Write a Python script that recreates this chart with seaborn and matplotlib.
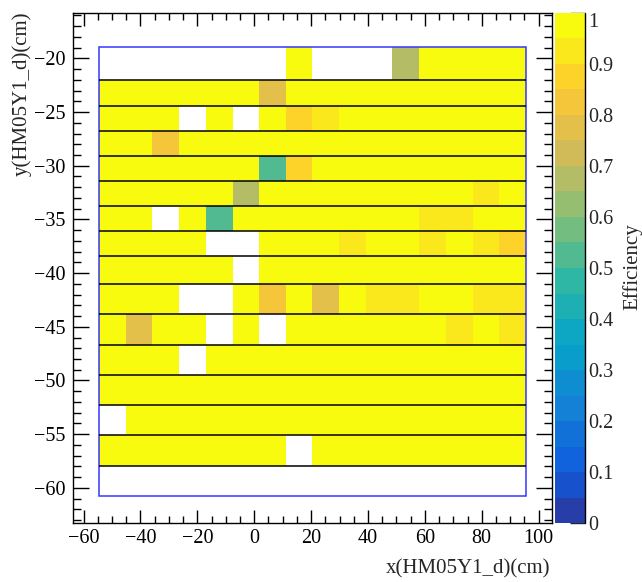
import numpy as np
import pandas as pd
import matplotlib
matplotlib.use("Agg")
import matplotlib.pyplot as plt
from matplotlib.colors import LinearSegmentedColormap, ListedColormap
from matplotlib.patches import Rectangle
from matplotlib.ticker import MultipleLocator
import seaborn as sns

# bin edges of the efficiency map (cm)
x_edges = [-54.5, -45.1, -35.8, -26.4, -17.0, -7.6, 1.7, 11.1, 20.5,
           29.9, 39.3, 48.6, 58.0, 67.4, 76.8, 86.1, 95.5]
# y edges, top -> bottom
y_edges = [-18.9, -22.05, -24.45, -26.75, -29.05, -31.45, -33.75, -36.1,
           -38.45, -41.0, -43.85, -46.65, -49.45, -52.3, -55.1, -57.95, -60.75]

# efficiency per cell, rows top -> bottom, 0 = no entries
eff = [
    [0, 0, 0, 0, 0, 0, 0, .98, 0, 0, 0, .67, .98, .98, .98, .98],
    [.98, .98, .98, .98, .98, .98, .77, .98, .98, .98, .98, .98, .98, .98, .98, .98],
    [.98, .98, .98, 0, .98, 0, .98, .87, .93, .98, .98, .98, .98, .98, .98, .98],
    [.98, .98, .82, .98, .98, .98, .98, .98, .98, .98, .98, .98, .98, .98, .98, .98],
    [.98, .98, .98, .98, .98, .98, .52, .87, .98, .98, .98, .98, .98, .98, .98, .98],
    [.98, .98, .98, .98, .98, .67, .98, .98, .98, .98, .98, .98, .98, .98, .93, .98],
    [.98, .98, 0, .98, .52, .98, .98, .98, .98, .98, .98, .98, .93, .93, .98, .98],
    [.98, .98, .98, .98, 0, 0, .98, .98, .98, .93, .98, .98, .93, .98, .93, .87],
    [.98, .98, .98, .98, .98, 0, .98, .98, .98, .98, .98, .98, .98, .98, .98, .98],
    [.98, .98, .98, 0, 0, .98, .82, .98, .77, .98, .93, .93, .98, .98, .93, .93],
    [.98, .77, .98, .98, 0, .98, 0, .98, .98, .98, .98, .98, .98, .93, .98, .93],
    [.98, .98, .98, 0, .98, .98, .98, .98, .98, .98, .98, .98, .98, .98, .98, .98],
    [.98, .98, .98, .98, .98, .98, .98, .98, .98, .98, .98, .98, .98, .98, .98, .98],
    [0, .98, .98, .98, .98, .98, .98, .98, .98, .98, .98, .98, .98, .98, .98, .98],
    [.98, .98, .98, .98, .98, .98, .98, 0, .98, .98, .98, .98, .98, .98, .98, .98],
    [0, 0, 0, 0, 0, 0, 0, 0, 0, 0, 0, 0, 0, 0, 0, 0],
]

cbar_ticks = [0, 0.1, 0.2, 0.3, 0.4, 0.5, 0.6, 0.7, 0.8, 0.9, 1]
cbar_labels = ["0", "0.1", "0.2", "0.3", "0.4", "0.5", "0.6", "0.7", "0.8", "0.9", "1"]

# long table: one weighted entry per filled cell
xc = [(a + b) / 2 for a, b in zip(x_edges[:-1], x_edges[1:])]
yc = [(a + b) / 2 for a, b in zip(y_edges[:-1], y_edges[1:])]
recs = []
for i, row in enumerate(eff):
    for j, v in enumerate(row):
        if v > 0:
            recs.append({"x": xc[j], "y": yc[i], "eff": v})
df = pd.DataFrame(recs)

# ROOT kBird palette, 20 contour levels
stops = [0.0, 0.125, 0.25, 0.375, 0.5, 0.625, 0.75, 0.875, 1.0]
red = [0.2082, 0.0592, 0.0780, 0.0232, 0.1802, 0.5301, 0.8186, 0.9956, 0.9764]
green = [0.1664, 0.3599, 0.5041, 0.6419, 0.7178, 0.7492, 0.7328, 0.7862, 0.9832]
blue = [0.5293, 0.8684, 0.8385, 0.7914, 0.6425, 0.4662, 0.3499, 0.1968, 0.0539]
bird = LinearSegmentedColormap.from_list(
    "bird", list(zip(stops, zip(red, green, blue))), N=255)
levels = ListedColormap([bird((i + 0.99) / 20) for i in range(20)])

sns.set_style("ticks")
plt.rcParams["font.family"] = ["Liberation Serif", "DejaVu Serif"]

W, H = 642, 582
fig = plt.figure(figsize=(W / 100, H / 100), dpi=100)
ax = fig.add_axes([72.7 / W, 1 - 523.3 / H, (552 - 72.7) / W, (523.3 - 12.7) / H])
cax = fig.add_axes([555 / W, 1 - 523.3 / H, 30 / W, (523.3 - 12.7) / H])

sns.histplot(data=df, x="x", y="y", weights="eff",
             bins=[x_edges, y_edges[::-1]],
             cmap=levels, vmin=0, vmax=1,
             cbar=True, cbar_ax=cax, ax=ax)

# detector outline and slab boundaries
ax.hlines(y_edges[1:-1], x_edges[0], x_edges[-1], color="black", lw=1.1)
ax.add_patch(Rectangle((x_edges[0], y_edges[-1]), x_edges[-1] - x_edges[0],
                       y_edges[0] - y_edges[-1], fill=False, ec="#3535ff", lw=1.1))

ax.set_xlim(-63.8, 104.7)
ax.set_ylim(-63.3, -15.75)
ax.xaxis.set_major_locator(MultipleLocator(20))
ax.xaxis.set_minor_locator(MultipleLocator(5))
ax.yaxis.set_major_locator(MultipleLocator(5))
ax.yaxis.set_minor_locator(MultipleLocator(1))
ax.tick_params(which="both", direction="in", top=True, right=True,
               width=1, labelsize=14.5, colors="black")
ax.tick_params(axis="x", which="major", length=9.5, pad=4)
ax.tick_params(axis="x", which="minor", length=4.7)
ax.tick_params(axis="y", which="major", length=11.5, pad=5.5)
ax.tick_params(axis="y", which="minor", length=5.8)
ax.set_xlabel("")
ax.set_ylabel("")
for s in ax.spines.values():
    s.set_visible(True)
    s.set_linewidth(1)
    s.set_color("black")

# palette axis
cbar = ax.collections[0].colorbar
cbar.outline.set_visible(False)
cax.set_yticks(cbar_ticks)
cax.set_yticklabels(cbar_labels)
cax.minorticks_off()
cax.tick_params(axis="y", direction="in", length=11, width=1, labelsize=14.5,
                pad=2, right=True, left=False, labelright=True, labelleft=False)
cax.plot([1, 1], [0, 1], transform=cax.transAxes, color="black", lw=1, clip_on=False)
cax.get_yticklabels()[-1].set_va("top")

fig.text(22 / W, 1 - 12 / H, "y(HM05Y1_d)(cm)", rotation=90, ha="center",
         va="top", fontsize=15)
fig.text(550 / W, 1 - 569 / H, "x(HM05Y1_d)(cm)", ha="right", va="center",
         fontsize=15)
fig.text(632 / W, 1 - 267 / H, "Efficiency", rotation=90, ha="center",
         va="center", fontsize=15)

fig.savefig("out.png", dpi=100)
